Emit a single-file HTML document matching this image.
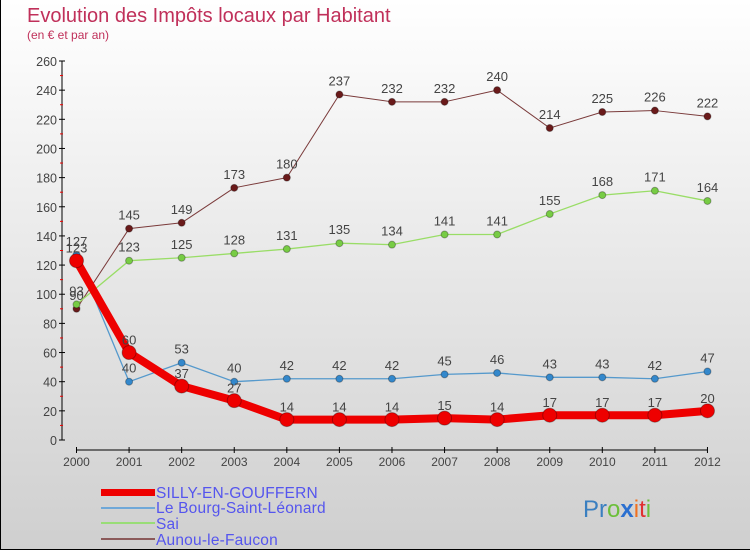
<!DOCTYPE html>
<html><head><meta charset="utf-8"><style>
body{margin:0}
#c{width:750px;height:550px;position:relative;background:linear-gradient(#ffffff,#cfcfcf);font-family:"Liberation Sans","DejaVu Sans",sans-serif;box-sizing:border-box;border:1px solid #000;border-top:none;border-right:none;overflow:hidden}
</style></head><body>
<div id="c">
<svg id="s" width="750" height="550" style="position:absolute;left:0;top:0">
<text x="26" y="22" font-size="20" fill="#c0305a">Evolution des Impôts locaux par Habitant</text>
<text x="26" y="39" font-size="12" fill="#c0305a">(en € et par an)</text>
<g id="ax"></g><g id="ser"></g>
<g font-size="15.5" fill="#5555ee" letter-spacing="0.2">
<rect x="100" y="489" width="54" height="7" fill="#ee0000"/>
<text x="155" y="498">SILLY-EN-GOUFFERN</text>
<rect x="100" y="507" width="54" height="2" fill="#6fa8d8"/>
<text x="155" y="513">Le Bourg-Saint-Léonard</text>
<rect x="100" y="522" width="54" height="2" fill="#99dd77"/>
<text x="155" y="529">Sai</text>
<rect x="100" y="538" width="54" height="2" fill="#8b5a5a"/>
<text x="155" y="545">Aunou-le-Faucon</text>
</g>
<text x="582" y="517" font-size="24" font-family="Liberation Sans, sans-serif"><tspan fill="#3a7fc0">Pr</tspan><tspan fill="#6cbf3a">o</tspan><tspan fill="#2a6fd0" font-weight="bold">x</tspan><tspan fill="#f07020">i</tspan><tspan fill="#e03030">t</tspan><tspan fill="#6cbf3a">i</tspan></text>
</svg>
</div>
<script>
const years=[2000,2001,2002,2003,2004,2005,2006,2007,2008,2009,2010,2011,2012];
const yTicks=[0,20,40,60,80,100,120,140,160,180,200,220,240,260];
const silly=[123,60,37,27,14,14,14,15,14,17,17,17,20];
const bourg=[127,40,53,40,42,42,42,45,46,43,43,42,47];
const sai=[93,123,125,128,131,135,134,141,141,155,168,171,164];
const aunou=[90,145,149,173,180,237,232,232,240,214,225,226,222];
const NS='http://www.w3.org/2000/svg';
function X(i){return 75.5+i*52.58;}
function Y(v){return 440-v*379/260;}
function mk(t,a,p){const e=document.createElementNS(NS,t);for(const k in a)e.setAttribute(k,a[k]);p.appendChild(e);return e;}
const ax=document.getElementById('ax');
let l=mk('line',{x1:61,y1:Y(260),x2:61,y2:440,stroke:'#000'},ax);


l=mk('line',{x1:X(0),y1:450,x2:X(12),y2:450,stroke:'#000'},ax);


yTicks.forEach((v,i)=>{
 mk('line',{x1:58,y1:Y(v),x2:64,y2:Y(v),stroke:'#000'},ax);
 if(i<yTicks.length-1)mk('line',{x1:59,y1:Y(v+10),x2:62,y2:Y(v+10),stroke:'#e00'},ax);
 const t=mk('text',{x:56,y:Y(v)+5,'text-anchor':'end','font-size':12.5,fill:'#444'},ax);t.textContent=v;
 
 
});
years.forEach((y,i)=>{
 mk('line',{x1:X(i),y1:447,x2:X(i),y2:453,stroke:'#000'},ax);
 const t=mk('text',{x:X(i),y:466,'text-anchor':'middle','font-size':12,fill:'#444'},ax);t.textContent=y;
 
 
});
const ser=document.getElementById('ser');
function draw(d,col,dot,w,r,name,lo){
 const g=mk('g',{},ser);
 
 
 const p=mk('polyline',{points:d.map((v,i)=>X(i)+','+Y(v)).join(' '),fill:'none',stroke:col,'stroke-width':w,'stroke-linejoin':'round'},g);
 
 
 d.forEach((v,i)=>{
  const c=mk('circle',{cx:X(i),cy:Y(v),r:r,fill:dot,stroke:'rgba(0,0,0,0.3)','stroke-width':1},g);
  
  
  const t=mk('text',{x:X(i),y:Y(v)-(lo?8:9),'text-anchor':'middle','font-size':13,fill:'#444'},g);t.textContent=v;
  
  
 });
}
draw(aunou,'#7a3a3a','#6a1a1a',1,3.5,'aunou');
draw(sai,'#99dd66','#77cc44',1.3,3.5,'sai');
draw(bourg,'#5599cc','#3388cc',1.3,3.5,'bourg');
draw(silly,'#ee0000','#ee0000',8,7,'silly',true);
</script>
</body></html>
